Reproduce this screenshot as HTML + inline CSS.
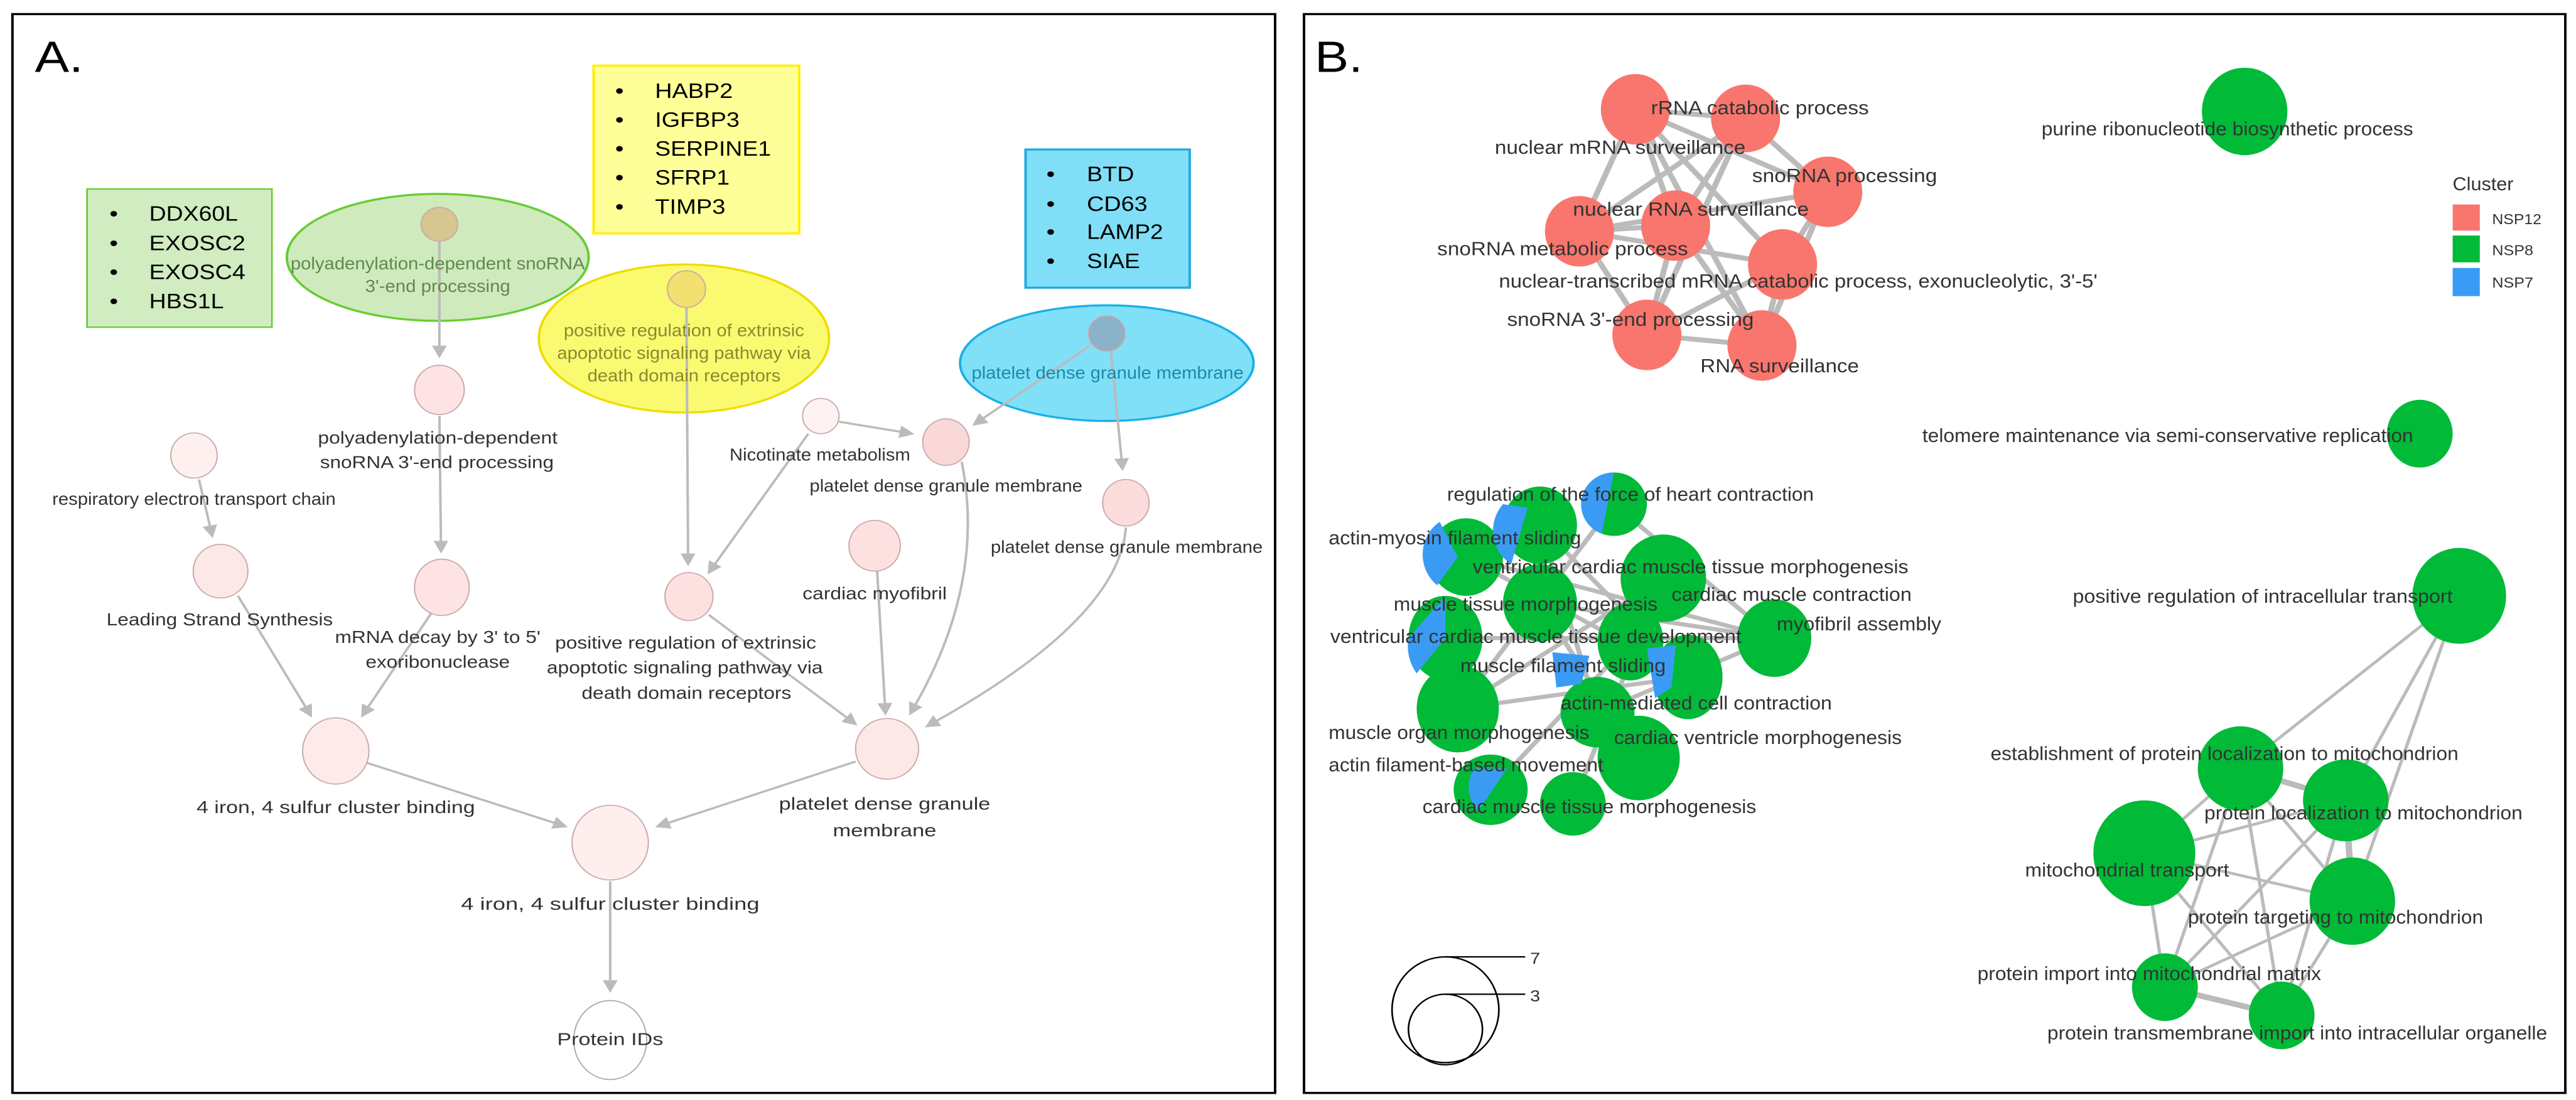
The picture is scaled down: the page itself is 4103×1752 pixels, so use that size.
<!DOCTYPE html>
<html><head><meta charset="utf-8"><style>
html,body{margin:0;padding:0;background:#fff;}
svg{position:absolute;top:0;}
text{font-family:"Liberation Sans",sans-serif;}
</style></head><body>
<svg style="left:0" width="2060" height="1752" viewBox="0 0 1560 1560" preserveAspectRatio="none">
<defs><marker id="ar" markerWidth="6" markerHeight="6" refX="5" refY="3" orient="auto" markerUnits="strokeWidth"><path d="M0,0 L6,3 L0,6 z" fill="#bbb"/></marker></defs>
<rect x="15" y="20" width="1523" height="1530" fill="#fff" stroke="#000" stroke-width="3"/>
<text x="42" y="102" font-size="62">A.</text>
<rect x="105" y="268" width="223" height="196" fill="#d0ecc0" stroke="#66cc33" stroke-width="2"/>
<g font-size="30" fill="#000">
<text x="132" y="313">•</text><text x="180" y="313" textLength="107" lengthAdjust="spacingAndGlyphs">DDX60L</text>
<text x="132" y="355">•</text><text x="180" y="355" textLength="116" lengthAdjust="spacingAndGlyphs">EXOSC2</text>
<text x="132" y="396">•</text><text x="180" y="396" textLength="116" lengthAdjust="spacingAndGlyphs">EXOSC4</text>
<text x="132" y="437">•</text><text x="180" y="437" textLength="90" lengthAdjust="spacingAndGlyphs">HBS1L</text>
</g>
<rect x="716" y="93" width="248" height="238" fill="#ffff99" stroke="#ffee00" stroke-width="3"/>
<g font-size="30" fill="#000">
<text x="742" y="139">•</text><text x="790" y="139" textLength="94" lengthAdjust="spacingAndGlyphs">HABP2</text>
<text x="742" y="180">•</text><text x="790" y="180" textLength="102" lengthAdjust="spacingAndGlyphs">IGFBP3</text>
<text x="742" y="221">•</text><text x="790" y="221" textLength="140" lengthAdjust="spacingAndGlyphs">SERPINE1</text>
<text x="742" y="262">•</text><text x="790" y="262" textLength="90" lengthAdjust="spacingAndGlyphs">SFRP1</text>
<text x="742" y="303">•</text><text x="790" y="303" textLength="85" lengthAdjust="spacingAndGlyphs">TIMP3</text>
</g>
<rect x="1237" y="212" width="198" height="196" fill="#80def6" stroke="#22aadd" stroke-width="3"/>
<g font-size="30" fill="#000">
<text x="1262" y="257">•</text><text x="1311" y="257" textLength="57" lengthAdjust="spacingAndGlyphs">BTD</text>
<text x="1262" y="299">•</text><text x="1311" y="299" textLength="73" lengthAdjust="spacingAndGlyphs">CD63</text>
<text x="1262" y="339">•</text><text x="1311" y="339" textLength="92" lengthAdjust="spacingAndGlyphs">LAMP2</text>
<text x="1262" y="380">•</text><text x="1311" y="380" textLength="64" lengthAdjust="spacingAndGlyphs">SIAE</text>
</g>
<ellipse cx="528" cy="365" rx="182" ry="90" fill="#cfeabc" stroke="#66cc33" stroke-width="3"/>
<ellipse cx="825" cy="480" rx="175" ry="105" fill="#fafa70" stroke="#eedd00" stroke-width="3"/>
<ellipse cx="1335" cy="515" rx="177" ry="82" fill="#80e0f8" stroke="#1ab0e8" stroke-width="3"/>
<g stroke="#bbb" stroke-width="3" fill="none" marker-end="url(#ar)">
<line x1="530" y1="342" x2="530" y2="505"/>
<line x1="530" y1="590" x2="532" y2="782"/>
<line x1="240" y1="680" x2="256" y2="760"/>
<line x1="287" y1="845" x2="375" y2="1015"/>
<line x1="520" y1="870" x2="437" y2="1015"/>
<line x1="828" y1="435" x2="830" y2="800"/>
<line x1="975" y1="615" x2="855" y2="812"/>
<line x1="1012" y1="598" x2="1100" y2="615"/>
<line x1="1315" y1="490" x2="1175" y2="602"/>
<line x1="1340" y1="498" x2="1354" y2="665"/>
<path d="M1160,655 Q1190,830 1098,1012"/>
<line x1="1058" y1="810" x2="1068" y2="1012"/>
<path d="M1358,748 Q1350,880 1118,1030"/>
<line x1="855" y1="872" x2="1032" y2="1027"/>
<line x1="443" y1="1082" x2="682" y2="1172"/>
<line x1="1032" y1="1080" x2="793" y2="1172"/>
<line x1="736" y1="1250" x2="736" y2="1405"/>
</g>
<g stroke="#c9a9a9" stroke-width="1.5">
<ellipse cx="530" cy="318" rx="22" ry="24" fill="#d6c690"/>
<ellipse cx="828" cy="410" rx="23" ry="26" fill="#f2e070"/>
<ellipse cx="1335" cy="473" rx="22" ry="25" fill="#8ab2c8"/>
<ellipse cx="530" cy="553" rx="30" ry="35" fill="#fde3e3"/>
<ellipse cx="234" cy="646" rx="28" ry="32" fill="#fff0f0"/>
<ellipse cx="266" cy="810" rx="33" ry="38" fill="#fde8e8"/>
<ellipse cx="533" cy="833" rx="33" ry="40" fill="#fde3e3"/>
<ellipse cx="990" cy="590" rx="22" ry="25" fill="#fff2f2"/>
<ellipse cx="1141" cy="627" rx="28" ry="33" fill="#fbd8d8"/>
<ellipse cx="1358" cy="713" rx="28" ry="33" fill="#fcdcdc"/>
<ellipse cx="1055" cy="774" rx="31" ry="36" fill="#fde0e0"/>
<ellipse cx="831" cy="846" rx="29" ry="34" fill="#fde0e0"/>
<ellipse cx="405" cy="1065" rx="40" ry="47" fill="#feeaea"/>
<ellipse cx="1070" cy="1062" rx="38" ry="43" fill="#fde8e8"/>
<ellipse cx="736" cy="1195" rx="46" ry="53" fill="#feeeee"/>
<ellipse cx="736" cy="1475" rx="44" ry="56" fill="#fff" stroke="#aaa"/>
</g>
<g font-size="25" text-anchor="middle" fill="#333" lengthAdjust="spacingAndGlyphs">
<text x="528" y="382" fill="#5f8a4f" textLength="355" lengthAdjust="spacingAndGlyphs">polyadenylation-dependent snoRNA</text>
<text x="528" y="414" fill="#5f8a4f" textLength="175" lengthAdjust="spacingAndGlyphs">3'-end processing</text>
<text x="825" y="477" fill="#8a8a30" textLength="290" lengthAdjust="spacingAndGlyphs">positive regulation of extrinsic</text>
<text x="825" y="509" fill="#8a8a30" textLength="306" lengthAdjust="spacingAndGlyphs">apoptotic signaling pathway via</text>
<text x="825" y="541" fill="#8a8a30" textLength="233" lengthAdjust="spacingAndGlyphs">death domain receptors</text>
<text x="1336" y="537" fill="#1a8aaa" textLength="328" lengthAdjust="spacingAndGlyphs">platelet dense granule membrane</text>
<text x="528" y="629" textLength="289" lengthAdjust="spacingAndGlyphs">polyadenylation-dependent</text>
<text x="527" y="664" textLength="282" lengthAdjust="spacingAndGlyphs">snoRNA 3'-end processing</text>
<text x="234" y="716" textLength="342" lengthAdjust="spacingAndGlyphs">respiratory electron transport chain</text>
<text x="265" y="887" textLength="273" lengthAdjust="spacingAndGlyphs">Leading Strand Synthesis</text>
<text x="528" y="912" textLength="248" lengthAdjust="spacingAndGlyphs">mRNA decay by 3' to 5'</text>
<text x="528" y="947" textLength="174" lengthAdjust="spacingAndGlyphs">exoribonuclease</text>
<text x="989" y="653" textLength="218" lengthAdjust="spacingAndGlyphs">Nicotinate metabolism</text>
<text x="1141" y="697" textLength="329" lengthAdjust="spacingAndGlyphs">platelet dense granule membrane</text>
<text x="1359" y="784" textLength="328" lengthAdjust="spacingAndGlyphs">platelet dense granule membrane</text>
<text x="1055" y="850" textLength="174" lengthAdjust="spacingAndGlyphs">cardiac myofibril</text>
<text x="827" y="920" textLength="315" lengthAdjust="spacingAndGlyphs">positive regulation of extrinsic</text>
<text x="826" y="955" textLength="333" lengthAdjust="spacingAndGlyphs">apoptotic signaling pathway via</text>
<text x="828" y="991" textLength="253" lengthAdjust="spacingAndGlyphs">death domain receptors</text>
<text x="405" y="1153" textLength="336" lengthAdjust="spacingAndGlyphs">4 iron, 4 sulfur cluster binding</text>
<text x="1067" y="1148" textLength="255" lengthAdjust="spacingAndGlyphs">platelet dense granule</text>
<text x="1067" y="1186" textLength="125" lengthAdjust="spacingAndGlyphs">membrane</text>
<text x="736" y="1290" textLength="360" lengthAdjust="spacingAndGlyphs">4 iron, 4 sulfur cluster binding</text>
<text x="736" y="1482" textLength="128" lengthAdjust="spacingAndGlyphs">Protein IDs</text>
</g>
</svg>

<svg style="left:2060px" width="2043" height="1752" viewBox="0 0 1560 1560" preserveAspectRatio="none">
<rect x="13" y="20" width="1534" height="1530" fill="#fff" stroke="#000" stroke-width="3"/>
<text x="26" y="102" font-size="62">B.</text>
<g stroke="#bbb" stroke-width="7" fill="none">
<line x1="416" y1="155" x2="550" y2="168"/><line x1="416" y1="155" x2="650" y2="272"/>
<line x1="416" y1="155" x2="348" y2="328"/><line x1="416" y1="155" x2="465" y2="320"/>
<line x1="416" y1="155" x2="595" y2="375"/><line x1="416" y1="155" x2="570" y2="490"/>
<line x1="550" y1="168" x2="650" y2="272"/><line x1="550" y1="168" x2="348" y2="328"/>
<line x1="550" y1="168" x2="465" y2="320"/><line x1="550" y1="168" x2="430" y2="475"/>
<line x1="650" y1="272" x2="595" y2="375"/><line x1="650" y1="272" x2="348" y2="328"/>
<line x1="348" y1="328" x2="465" y2="320"/><line x1="348" y1="328" x2="595" y2="375"/>
<line x1="348" y1="328" x2="430" y2="475"/><line x1="465" y1="320" x2="570" y2="490"/>
<line x1="465" y1="320" x2="430" y2="475"/><line x1="595" y1="375" x2="570" y2="490"/>
<line x1="595" y1="375" x2="430" y2="475"/><line x1="430" y1="475" x2="570" y2="490"/>
<line x1="650" y1="272" x2="570" y2="490"/>
</g>
<g fill="#f8766d">
<ellipse cx="416" cy="155" rx="42" ry="50"/><ellipse cx="550" cy="168" rx="42" ry="48"/>
<ellipse cx="650" cy="272" rx="42" ry="50"/><ellipse cx="348" cy="328" rx="42" ry="50"/>
<ellipse cx="465" cy="320" rx="42" ry="50"/><ellipse cx="595" cy="375" rx="42" ry="50"/>
<ellipse cx="430" cy="475" rx="42" ry="50"/><ellipse cx="570" cy="490" rx="42" ry="50"/>
</g>
<g stroke="#bbb" stroke-width="6">
<line x1="390" y1="715" x2="585" y2="905"/><line x1="300" y1="745" x2="480" y2="960"/>
<line x1="210" y1="790" x2="585" y2="905"/><line x1="450" y1="820" x2="200" y2="1005"/>
<line x1="300" y1="855" x2="420" y2="1075"/><line x1="185" y1="905" x2="585" y2="905"/>
<line x1="410" y1="910" x2="240" y2="1120"/><line x1="390" y1="715" x2="200" y2="1005"/>
<line x1="210" y1="790" x2="480" y2="960"/><line x1="450" y1="820" x2="340" y2="1140"/>
<line x1="300" y1="745" x2="370" y2="1010"/><line x1="585" y1="905" x2="370" y2="1010"/>
<line x1="585" y1="905" x2="300" y2="855"/><line x1="200" y1="1005" x2="480" y2="960"/>
</g>
<g fill="#00ba38">
<ellipse cx="300" cy="745" rx="45" ry="55"/>
<ellipse cx="210" cy="790" rx="45" ry="55"/>
<ellipse cx="450" cy="820" rx="52" ry="62"/>
<ellipse cx="185" cy="905" rx="45" ry="60"/>
<ellipse cx="300" cy="855" rx="45" ry="55"/>
<ellipse cx="585" cy="905" rx="45" ry="55"/>
<ellipse cx="480" cy="960" rx="42" ry="60"/>
<ellipse cx="410" cy="910" rx="40" ry="55"/>
<ellipse cx="370" cy="1010" rx="45" ry="50"/>
<ellipse cx="200" cy="1005" rx="50" ry="62"/>
<ellipse cx="420" cy="1075" rx="50" ry="60"/>
<ellipse cx="240" cy="1120" rx="45" ry="50"/>
<ellipse cx="340" cy="1140" rx="40" ry="45"/>
<ellipse cx="390" cy="715" rx="40" ry="45"/>
</g>
<g fill="#3a9bf5">
<path d="M390,670 A40,45 0 0 0 350,715 A40,45 0 0 0 375,757 Z"/>
<path d="M255,715 A45,55 0 0 0 265,800 L285,720 Z"/>
<path d="M178,740 A45,55 0 0 0 175,830 L200,790 Z"/>
<path d="M140,905 A45,60 0 0 0 150,955 L185,905 L185,845 Z"/>
<path d="M315,925 L360,930 L350,970 L320,975 Z"/>
<path d="M430,920 L465,915 L460,975 L440,990 Z"/>
<path d="M220,1090 A45,50 0 0 0 225,1150 L260,1090 Z"/>
</g>
<g stroke="#bbb" stroke-width="4">
<line x1="1418" y1="845" x2="1152" y2="1090"/><line x1="1418" y1="845" x2="1280" y2="1135"/>
<line x1="1418" y1="845" x2="1288" y2="1278"/>
<line x1="1152" y1="1090" x2="1280" y2="1135" stroke-width="8"/><line x1="1152" y1="1090" x2="1035" y2="1210"/>
<line x1="1152" y1="1090" x2="1288" y2="1278"/><line x1="1152" y1="1090" x2="1060" y2="1400"/>
<line x1="1280" y1="1135" x2="1035" y2="1210"/><line x1="1280" y1="1135" x2="1288" y2="1278" stroke-width="8"/>
<line x1="1280" y1="1135" x2="1060" y2="1400"/><line x1="1280" y1="1135" x2="1202" y2="1440"/>
<line x1="1035" y1="1210" x2="1288" y2="1278"/><line x1="1035" y1="1210" x2="1060" y2="1400"/>
<line x1="1035" y1="1210" x2="1202" y2="1440"/><line x1="1288" y1="1278" x2="1060" y2="1400"/>
<line x1="1288" y1="1278" x2="1202" y2="1440"/><line x1="1060" y1="1400" x2="1202" y2="1440" stroke-width="8"/>
<line x1="1152" y1="1090" x2="1202" y2="1440"/>
</g>
<g fill="#00ba38">
<ellipse cx="1157" cy="158" rx="52" ry="62"/>
<ellipse cx="1370" cy="615" rx="40" ry="48"/>
<ellipse cx="1418" cy="845" rx="57" ry="68"/>
<ellipse cx="1152" cy="1090" rx="52" ry="60"/>
<ellipse cx="1280" cy="1135" rx="52" ry="58"/>
<ellipse cx="1035" cy="1210" rx="62" ry="75"/>
<ellipse cx="1288" cy="1278" rx="52" ry="62"/>
<ellipse cx="1060" cy="1400" rx="40" ry="48"/>
<ellipse cx="1202" cy="1440" rx="40" ry="48"/>
</g>
<g font-size="27" fill="#333">
<text x="435" y="162" textLength="265" lengthAdjust="spacingAndGlyphs">rRNA catabolic process</text>
<text x="245" y="218" textLength="305" lengthAdjust="spacingAndGlyphs">nuclear mRNA surveillance</text>
<text x="558" y="258" textLength="225" lengthAdjust="spacingAndGlyphs">snoRNA processing</text>
<text x="340" y="306" textLength="287" lengthAdjust="spacingAndGlyphs">nuclear RNA surveillance</text>
<text x="175" y="362" textLength="305" lengthAdjust="spacingAndGlyphs">snoRNA metabolic process</text>
<text x="250" y="408" textLength="728" lengthAdjust="spacingAndGlyphs">nuclear-transcribed mRNA catabolic process, exonucleolytic, 3'-5'</text>
<text x="260" y="462" textLength="300" lengthAdjust="spacingAndGlyphs">snoRNA 3'-end processing</text>
<text x="495" y="528" textLength="193" lengthAdjust="spacingAndGlyphs">RNA surveillance</text>
<text x="910" y="192" textLength="452" lengthAdjust="spacingAndGlyphs">purine ribonucleotide biosynthetic process</text>
<text x="765" y="627" textLength="597" lengthAdjust="spacingAndGlyphs">telomere maintenance via semi-conservative replication</text>
<text x="948" y="855" textLength="462" lengthAdjust="spacingAndGlyphs">positive regulation of intracellular transport</text>
<text x="187" y="710" textLength="446" lengthAdjust="spacingAndGlyphs">regulation of the force of heart contraction</text>
<text x="43" y="772" textLength="307" lengthAdjust="spacingAndGlyphs">actin-myosin filament sliding</text>
<text x="218" y="813" textLength="530" lengthAdjust="spacingAndGlyphs">ventricular cardiac muscle tissue morphogenesis</text>
<text x="460" y="852" textLength="292" lengthAdjust="spacingAndGlyphs">cardiac muscle contraction</text>
<text x="122" y="866" textLength="321" lengthAdjust="spacingAndGlyphs">muscle tissue morphogenesis</text>
<text x="588" y="894" textLength="200" lengthAdjust="spacingAndGlyphs">myofibril assembly</text>
<text x="45" y="912" textLength="500" lengthAdjust="spacingAndGlyphs">ventricular cardiac muscle tissue development</text>
<text x="203" y="953" textLength="250" lengthAdjust="spacingAndGlyphs">muscle filament sliding</text>
<text x="325" y="1006" textLength="330" lengthAdjust="spacingAndGlyphs">actin-mediated cell contraction</text>
<text x="43" y="1048" textLength="317" lengthAdjust="spacingAndGlyphs">muscle organ morphogenesis</text>
<text x="390" y="1055" textLength="350" lengthAdjust="spacingAndGlyphs">cardiac ventricle morphogenesis</text>
<text x="43" y="1094" textLength="334" lengthAdjust="spacingAndGlyphs">actin filament-based movement</text>
<text x="157" y="1153" textLength="406" lengthAdjust="spacingAndGlyphs">cardiac muscle tissue morphogenesis</text>
<text x="848" y="1078" textLength="569" lengthAdjust="spacingAndGlyphs">establishment of protein localization to mitochondrion</text>
<text x="1108" y="1162" textLength="387" lengthAdjust="spacingAndGlyphs">protein localization to mitochondrion</text>
<text x="890" y="1243" textLength="248" lengthAdjust="spacingAndGlyphs">mitochondrial transport</text>
<text x="1088" y="1310" textLength="359" lengthAdjust="spacingAndGlyphs">protein targeting to mitochondrion</text>
<text x="832" y="1390" textLength="418" lengthAdjust="spacingAndGlyphs">protein import into mitochondrial matrix</text>
<text x="917" y="1474" textLength="608" lengthAdjust="spacingAndGlyphs">protein transmembrane import into intracellular organelle</text>
</g>
<text x="1410" y="270" font-size="26" fill="#333" textLength="74" lengthAdjust="spacingAndGlyphs">Cluster</text>
<rect x="1410" y="290" width="33" height="37" fill="#f8766d"/>
<rect x="1410" y="334" width="33" height="38" fill="#00ba38"/>
<rect x="1410" y="380" width="33" height="40" fill="#3a9bf5"/>
<g font-size="21" fill="#333">
<text x="1458" y="318" textLength="60" lengthAdjust="spacingAndGlyphs">NSP12</text><text x="1458" y="362" textLength="50" lengthAdjust="spacingAndGlyphs">NSP8</text><text x="1458" y="408" textLength="50" lengthAdjust="spacingAndGlyphs">NSP7</text>
</g>
<g fill="none" stroke="#000" stroke-width="2">
<ellipse cx="185" cy="1432" rx="65" ry="75"/>
<ellipse cx="185" cy="1460" rx="45" ry="50"/>
<line x1="185" y1="1357" x2="282" y2="1357"/>
<line x1="185" y1="1410" x2="282" y2="1410"/>
</g>
<text x="288" y="1367" font-size="22" fill="#333">7</text>
<text x="288" y="1420" font-size="22" fill="#333">3</text>
</svg>
</body></html>
